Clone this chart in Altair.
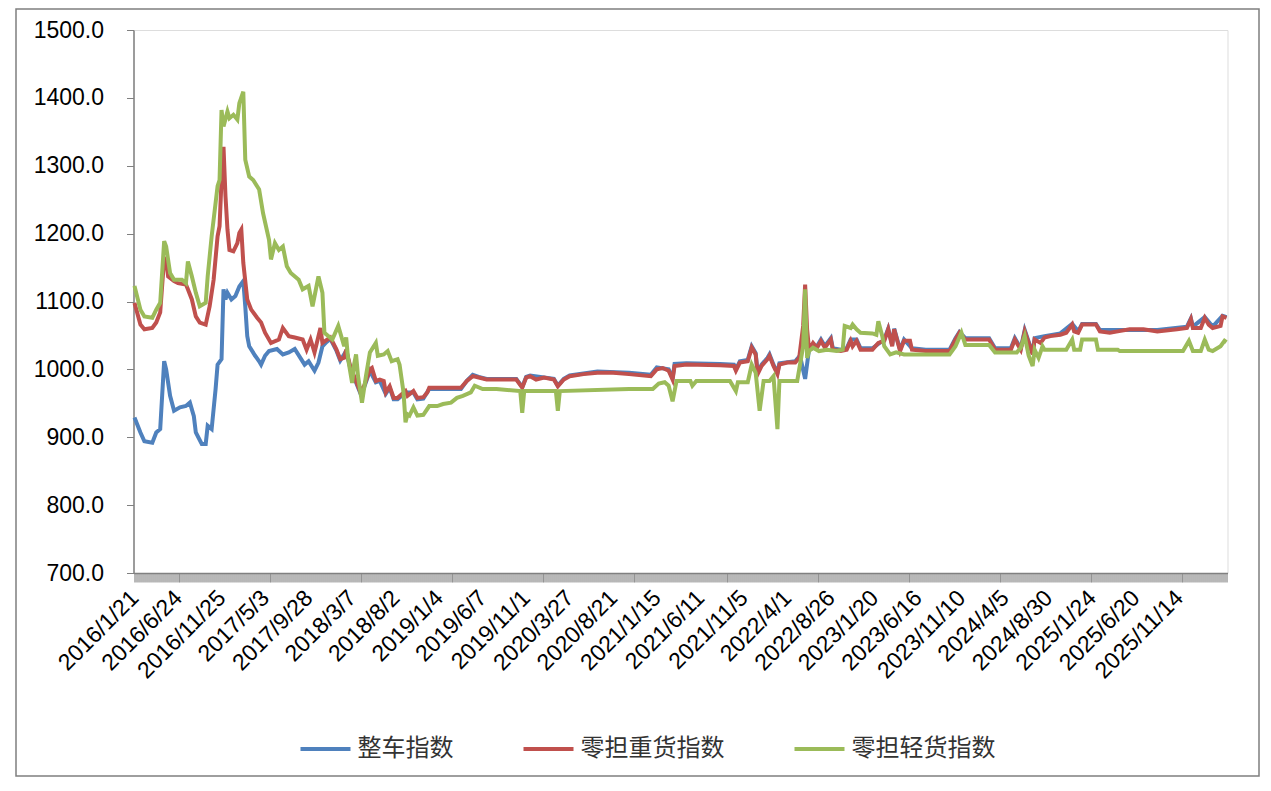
import json
import pandas as pd
import altair as alt

# ---- tick labels (every 22nd category) ----
date_labels = ["2016/1/21", "2016/6/24", "2016/11/25", "2017/5/3", "2017/9/28",
               "2018/3/7", "2018/8/2", "2019/1/4", "2019/6/7", "2019/11/1",
               "2020/3/27", "2020/8/21", "2021/1/15", "2021/6/11", "2021/11/5",
               "2022/4/1", "2022/8/26", "2023/1/20", "2023/6/16", "2023/11/10",
               "2024/4/5", "2024/8/30", "2025/1/24", "2025/6/20", "2025/11/14"]
n_categories = 553
label_step = 22

series_names = ["整车指数", "零担重货指数", "零担轻货指数"]
series_colors = ["#4F81BD", "#C0504D", "#9BBB59"]

# ---- 整车指数 ----
blue_idx = [0, 3, 5, 9, 11, 13, 15, 16, 18, 20, 23, 26, 28, 30, 31, 34, 36, 37, 39, 41, 42, 44,
            45, 46, 47, 49, 51, 53, 55, 56, 57, 58, 61, 63, 64, 66, 68, 72, 75, 78, 81, 86, 88,
            91, 93, 95, 97, 99, 102, 104, 107, 109, 111, 114, 116, 119, 122, 124, 127, 129, 131,
            133, 137, 141, 143, 146, 149, 165, 168, 171, 174, 178, 193, 196, 198, 200, 212, 214,
            217, 220, 234, 250, 261, 264, 270, 272, 273, 279, 296, 303, 304, 306, 310, 312, 314,
            315, 317, 320, 321, 323, 325, 326, 334, 336, 337, 339, 341, 342, 345, 347, 349, 352,
            353, 357, 360, 362, 365, 367, 373, 379, 381, 383, 384, 387, 389, 393, 400, 412, 415,
            417, 420, 432, 435, 443, 445, 448, 450, 452, 454, 455, 460, 468, 474, 477, 479, 486,
            488, 497, 517, 532, 534, 535, 541, 545, 550, 552]
blue_val = [929, 907, 894, 892, 907, 912, 1012, 1000, 961, 939, 944, 946, 951, 931, 907, 890, 890,
            917, 912, 971, 1007, 1015, 1118, 1103, 1113, 1103, 1108, 1122, 1130, 1093, 1049, 1034,
            1020, 1012, 1007, 1020, 1027, 1030, 1022, 1025, 1030, 1007, 1012, 998, 1010, 1034, 1040,
            1045, 1028, 1013, 1027, 1003, 988, 966, 973, 998, 981, 983, 964, 973, 956, 956, 966,
            966, 956, 957, 971, 971, 983, 992, 989, 986, 986, 974, 989, 991, 986, 976, 986, 991,
            997, 995, 992, 1003, 1000, 987, 1008, 1009, 1008, 1007, 1000, 1012, 1014, 1034, 1024,
            995, 1007, 1017, 1022, 1007, 995, 1009, 1012, 1019, 1012, 986, 1030, 1030, 1034, 1044,
            1034, 1046, 1031, 1029, 1031, 1044, 1044, 1031, 1031, 1044, 1060, 1036, 1060, 1029,
            1044, 1031, 1029, 1029, 1046, 1055, 1046, 1046, 1031, 1031, 1046, 1031, 1058, 1041,
            1024, 1046, 1049, 1053, 1067, 1056, 1067, 1067, 1058, 1058, 1058, 1063, 1075, 1063,
            1077, 1063, 1079, 1077]

# ---- 零担重货指数 ----
red_idx = [0, 3, 5, 9, 11, 13, 15, 16, 17, 20, 22, 26, 27, 29, 31, 33, 36, 38, 40, 42, 43, 44,
           45, 46, 47, 48, 50, 52, 53, 54, 55, 57, 59, 62, 64, 66, 69, 73, 75, 78, 81, 85, 87,
           89, 91, 94, 95, 99, 102, 104, 106, 107, 109, 111, 114, 116, 119, 120, 122, 124, 126,
           127, 129, 131, 133, 137, 138, 141, 143, 146, 148, 149, 165, 168, 171, 174, 178, 193,
           196, 198, 200, 203, 207, 212, 214, 217, 220, 227, 234, 242, 250, 261, 264, 267, 270,
           272, 273, 279, 296, 303, 304, 306, 310, 312, 314, 315, 317, 320, 321, 323, 325, 326,
           330, 334, 336, 338, 339, 340, 341, 343, 345, 347, 349, 352, 353, 357, 360, 362, 363,
           365, 367, 373, 376, 379, 381, 383, 384, 387, 389, 392, 393, 400, 412, 415, 417, 420,
           432, 435, 443, 445, 448, 450, 452, 454, 455, 458, 460, 463, 468, 471, 474, 475, 477,
           479, 486, 488, 493, 497, 503, 510, 517, 527, 532, 534, 535, 539, 541, 543, 545, 549,
           550, 552]
red_val = [1098, 1066, 1059, 1061, 1069, 1084, 1164, 1162, 1137, 1130, 1127, 1125, 1118, 1103,
           1078, 1069, 1066, 1093, 1132, 1196, 1211, 1279, 1328, 1255, 1206, 1176, 1174, 1186,
           1201, 1206, 1157, 1103, 1088, 1076, 1069, 1054, 1039, 1044, 1061, 1049, 1047, 1044,
           1029, 1044, 1025, 1061, 1039, 1047, 1030, 1015, 1017, 1029, 1005, 990, 968, 975, 1000,
           1002, 983, 985, 983, 966, 975, 958, 958, 968, 961, 968, 958, 959, 966, 973, 973, 983,
           990, 988, 985, 985, 973, 988, 990, 985, 988, 985, 975, 985, 990, 993, 995, 995, 993,
           990, 1000, 1002, 998, 985, 1005, 1007, 1006, 1005, 998, 1010, 1012, 1032, 1022, 993,
           1005, 1015, 1020, 1005, 993, 1007, 1010, 1010, 1017, 1064, 1125, 1059, 1029, 1039,
           1032, 1042, 1032, 1044, 1029, 1027, 1029, 1042, 1034, 1042, 1029, 1029, 1039, 1042,
           1059, 1034, 1059, 1027, 1042, 1042, 1029, 1027, 1027, 1044, 1054, 1044, 1044, 1029,
           1029, 1044, 1029, 1056, 1039, 1022, 1044, 1039, 1047, 1049, 1051, 1054, 1066, 1056,
           1054, 1066, 1066, 1056, 1054, 1056, 1059, 1059, 1056, 1059, 1061, 1074, 1061, 1061,
           1076, 1066, 1061, 1064, 1078, 1076]

# ---- 零担轻货指数 ----
green_idx = [0, 3, 5, 9, 11, 13, 15, 16, 18, 20, 24, 26, 27, 29, 31, 33, 36, 37, 39, 42, 43, 44,
             45, 47, 48, 50, 52, 53, 55, 56, 58, 60, 63, 65, 68, 69, 71, 73, 75, 77, 79, 83, 85,
             88, 90, 93, 95, 96, 100, 103, 106, 107, 108, 110, 111, 112, 113, 115, 117, 119, 122,
             123, 126, 128, 130, 133, 134, 136, 137, 138, 139, 141, 143, 146, 149, 153, 156, 160,
             163, 166, 170, 172, 176, 183, 195, 196, 197, 213, 214, 215, 250, 262, 265, 268, 270,
             272, 274, 281, 282, 284, 301, 304, 305, 310, 312, 314, 316, 318, 321, 323, 325, 326,
             335, 336, 338, 339, 340, 341, 343, 346, 350, 355, 358, 359, 362, 363, 365, 367, 373,
             375, 376, 378, 379, 382, 385, 389, 400, 412, 415, 418, 420, 432, 435, 446, 448, 450,
             452, 454, 455, 457, 459, 460, 471, 474, 475, 478, 479, 486, 487, 497, 498, 530, 533,
             535, 539, 541, 543, 545, 549, 551, 552]
green_val = [1123, 1088, 1078, 1076, 1088, 1098, 1189, 1181, 1142, 1132, 1132, 1127, 1159, 1137,
             1113, 1093, 1098, 1137, 1196, 1270, 1279, 1382, 1358, 1380, 1370, 1375, 1368, 1392,
             1409, 1309, 1284, 1279, 1265, 1230, 1191, 1162, 1186, 1176, 1181, 1152, 1142, 1132,
             1118, 1123, 1093, 1137, 1113, 1054, 1044, 1064, 1034, 1047, 1015, 980, 1007, 1022,
             990, 951, 990, 1025, 1039, 1020, 1022, 1027, 1012, 1015, 1007, 966, 922, 934, 932,
             944, 932, 933, 946, 946, 949, 951, 958, 961, 966, 976, 971, 971, 968, 936, 968, 968,
             939, 968, 971, 971, 979, 981, 976, 953, 983, 983, 976, 983, 983, 968, 981, 981, 1007,
             995, 939, 983, 983, 990, 912, 983, 983, 1000, 1034, 1118, 1017, 1027, 1032, 1027,
             1029, 1027, 1029, 1064, 1061, 1066, 1059, 1054, 1053, 1051, 1071, 1049, 1034, 1022,
             1025, 1022, 1022, 1022, 1034, 1054, 1036, 1036, 1025, 1025, 1032, 1049, 1020, 1005,
             1029, 1017, 1034, 1029, 1029, 1044, 1029, 1029, 1044, 1044, 1029, 1029, 1027, 1027,
             1042, 1027, 1027, 1044, 1029, 1027, 1034, 1042, 1040]

frames = []
for name, xs, ys in [(series_names[0], blue_idx, blue_val),
                     (series_names[1], red_idx, red_val),
                     (series_names[2], green_idx, green_val)]:
    frames.append(pd.DataFrame({"idx": xs, "val": ys, "series": name}))
df = pd.concat(frames, ignore_index=True)

label_expr = (f"(datum.value % {label_step} == 0 && datum.value / {label_step} < {len(date_labels)}) "
              f"? {json.dumps(date_labels, ensure_ascii=False)}[datum.value / {label_step}] : ''")

axis_gray = "#808080"
x_enc = alt.X("idx:Q",
              scale=alt.Scale(domain=[-0.5, n_categories - 0.5], nice=False, zero=False),
              axis=alt.Axis(values=list(range(n_categories)), labelExpr=label_expr,
                            labelAngle=315, labelAlign="right", labelBaseline="middle",
                            labelOverlap=False, labelFlush=False, tickSize=9, labelPadding=12,
                            domainColor=axis_gray, tickColor="#707070", tickWidth=1,
                            domainWidth=1.5,
                            grid=False, title=None, labelFontSize=23,
                            labelFont="Liberation Sans", labelColor="#000000"))
y_enc = alt.Y("val:Q",
              scale=alt.Scale(domain=[700, 1500], nice=False, zero=False),
              axis=alt.Axis(values=[700, 800, 900, 1000, 1100, 1200, 1300, 1400, 1500],
                            format=".1f", tickSize=7, labelPadding=23,
                            domainColor=axis_gray, tickColor=axis_gray, grid=False, title=None,
                            domainWidth=1.5,
                            labelFontSize=23, labelFont="Liberation Sans",
                            labelColor="#000000"))
color_enc = alt.Color("series:N",
                      scale=alt.Scale(domain=series_names, range=series_colors),
                      legend=alt.Legend(title=None, orient="none", direction="horizontal",
                                        legendX=165, legendY=692, symbolType="stroke",
                                        symbolSize=2500, symbolStrokeWidth=4,
                                        labelFontSize=24, labelFont="Noto Sans CJK SC",
                                        labelColor="#333333", labelOffset=5,
                                        columnPadding=62, padding=0))

base = alt.Chart(df).mark_line(strokeWidth=4).encode(x=x_enc, y=y_enc, color=color_enc)
layers = [base.transform_filter(alt.datum.series == n) for n in series_names]

frame = alt.Chart(pd.DataFrame({"a": [0]})).mark_rect(
    fill="transparent", stroke="#7f7f7f", strokeWidth=1.5
).encode(x=alt.value(-117.5), x2=alt.value(1125.5), y=alt.value(-21), y2=alt.value(746))

chart = alt.layer(*layers, frame).properties(
    width=1094, height=543,
    autosize=alt.AutoSizeParams(type="none"),
    padding={"left": 125.5, "top": 22, "right": 35, "bottom": 205},
).configure_view(stroke=None).configure(background="white")

chart.save("out.html", embed_options={"renderer": "svg", "actions": False})
